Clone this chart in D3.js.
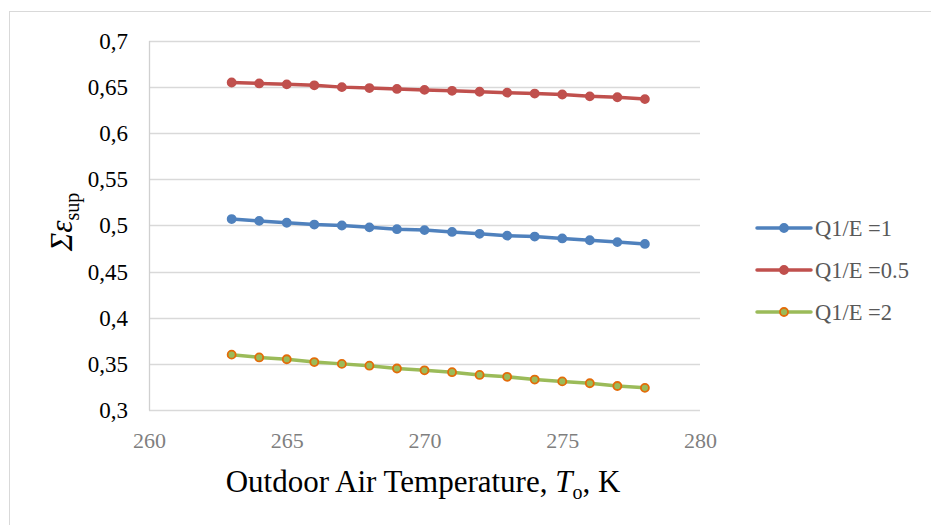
<!DOCTYPE html>
<html lang="en">
<head>
    <meta charset="UTF-8">
    <script src="https://d3js.org/d3.v7.min.js"></script>
    <title>Sum epsilon sup vs outdoor temperature</title>
    <style>
        html, body {
            margin: 0px;
            padding: 0px;
            background-color: #ffffff;
        }
        svg text {
            font-family: "Liberation Serif", "DejaVu Serif", "Times New Roman", Times, serif;
        }
    </style>
</head>
<body>
    <div id="chart"></div>

    <script>
        // data
        let temps = [263, 264, 265, 266, 267, 268, 269, 270, 271, 272, 273, 274, 275, 276, 277, 278];
        let q1 = [0.507, 0.505, 0.503, 0.501, 0.500, 0.498, 0.496, 0.495, 0.493, 0.491, 0.489, 0.488, 0.486, 0.484, 0.482, 0.480];
        let q05 = [0.655, 0.654, 0.653, 0.652, 0.650, 0.649, 0.648, 0.647, 0.646, 0.645, 0.644, 0.643, 0.642, 0.640, 0.639, 0.637];
        let q2 = [0.360, 0.357, 0.355, 0.352, 0.350, 0.348, 0.345, 0.343, 0.341, 0.338, 0.336, 0.333, 0.331, 0.329, 0.326, 0.324];
        let seriesNames = ['Q1/E =1', 'Q1/E =0.5', 'Q1/E =2'];
        let xTicks = [260, 265, 270, 275, 280];
        let yTicks = [0.3, 0.35, 0.4, 0.45, 0.5, 0.55, 0.6, 0.65, 0.7];

        let series = [
            {name: seriesNames[0], values: q1, line: '#4f81bd', fill: '#4f81bd', stroke: '#4f81bd'},
            {name: seriesNames[1], values: q05, line: '#c0504d', fill: '#c0504d', stroke: '#c0504d'},
            {name: seriesNames[2], values: q2, line: '#9bbb59', fill: '#9bbb59', stroke: '#e36c09'}
        ];

        let width = 931;
        let height = 525;
        let plot = {left: 149, right: 700, top: 41, bottom: 410};

        let svg = d3.select('#chart').append('svg')
            .attr('width', width)
            .attr('height', height);

        // chart frame (only top and left edges visible in the reference)
        svg.append('rect')
            .attr('x', 9.5).attr('y', 11.5)
            .attr('width', 940).attr('height', 540)
            .attr('fill', 'none')
            .attr('stroke', '#d9d9d9')
            .attr('stroke-width', 1);

        let x = d3.scaleLinear().domain([260, 280]).range([plot.left, plot.right]);
        let y = d3.scaleLinear().domain([0.3, 0.7]).range([plot.bottom, plot.top]);

        // gridlines
        svg.append('g')
            .selectAll('line')
            .data(yTicks)
            .join('line')
            .attr('x1', plot.left).attr('x2', plot.right)
            .attr('y1', d => Math.round(y(d)) + 0.5)
            .attr('y2', d => Math.round(y(d)) + 0.5)
            .attr('stroke', '#d9d9d9')
            .attr('stroke-width', 1.3);

        // left axis line
        svg.append('line')
            .attr('x1', plot.left + 0.5).attr('x2', plot.left + 0.5)
            .attr('y1', plot.top).attr('y2', plot.bottom + 0.5)
            .attr('stroke', '#d0d0d0')
            .attr('stroke-width', 1.3);

        // y tick labels
        let fmt = d => d3.format('.2~f')(d).replace('.', ',');
        let yAxis = d3.axisLeft(y).tickValues(yTicks).tickFormat(fmt).tickSize(0).tickPadding(21);
        let gy = svg.append('g')
            .attr('transform', `translate(${plot.left},0)`)
            .call(yAxis);
        gy.select('.domain').remove();
        gy.attr('font-family', null);
        gy.selectAll('text')
            .attr('font-size', 23)
            .attr('fill', '#000');

        // x tick labels
        let xAxis = d3.axisBottom(x).tickValues(xTicks).tickSize(0).tickPadding(22);
        let gx = svg.append('g')
            .attr('transform', `translate(0,${plot.bottom})`)
            .call(xAxis);
        gx.select('.domain').remove();
        gx.attr('font-family', null);
        gx.selectAll('text')
            .attr('font-size', 22)
            .attr('fill', '#7f7f7f');

        // series
        let line = d3.line()
            .x((d, i) => x(temps[i]))
            .y(d => y(d));

        series.forEach(s => {
            svg.append('path')
                .datum(s.values)
                .attr('d', line)
                .attr('fill', 'none')
                .attr('stroke', s.line)
                .attr('stroke-width', 3.5)
                .attr('stroke-linejoin', 'round');
            svg.append('g')
                .selectAll('circle')
                .data(s.values)
                .join('circle')
                .attr('cx', (d, i) => x(temps[i]))
                .attr('cy', d => y(d))
                .attr('r', 4)
                .attr('fill', s.fill)
                .attr('stroke', s.stroke)
                .attr('stroke-width', 1.8);
        });

        // legend
        let legend = svg.append('g').attr('transform', 'translate(757,228)');
        series.forEach((s, i) => {
            let g = legend.append('g').attr('transform', `translate(0,${i * 42})`);
            g.append('line')
                .attr('x1', 0).attr('x2', 54)
                .attr('y1', 0).attr('y2', 0)
                .attr('stroke', s.line)
                .attr('stroke-width', 3.5)
                .attr('stroke-linecap', 'round');
            g.append('circle')
                .attr('cx', 27).attr('cy', 0).attr('r', 4)
                .attr('fill', s.fill)
                .attr('stroke', s.stroke)
                .attr('stroke-width', 1.8);
            g.append('text')
                .attr('x', 58).attr('y', 8)
                .attr('font-size', 22.5)
                .attr('fill', '#595959')
                .text(s.name);
        });

        // x axis title
        let xt = svg.append('text')
            .attr('x', 423).attr('y', 492)
            .attr('text-anchor', 'middle')
            .attr('font-size', 31)
            .attr('fill', '#000');
        xt.append('tspan').text('Outdoor Air Temperature, ');
        xt.append('tspan').attr('font-style', 'italic').text('T');
        xt.append('tspan').attr('font-size', 20).attr('dy', 7).text('o');
        xt.append('tspan').attr('dy', -7).text(', K');

        // y axis title
        let yt = svg.append('text')
            .attr('transform', 'translate(72,222) rotate(-90)')
            .attr('text-anchor', 'middle')
            .attr('font-size', 31)
            .attr('fill', '#000');
        yt.append('tspan').attr('font-style', 'italic').text('Σε');
        yt.append('tspan').attr('font-size', 20).attr('dy', 7).text('sup');
    </script>
</body>
</html>
